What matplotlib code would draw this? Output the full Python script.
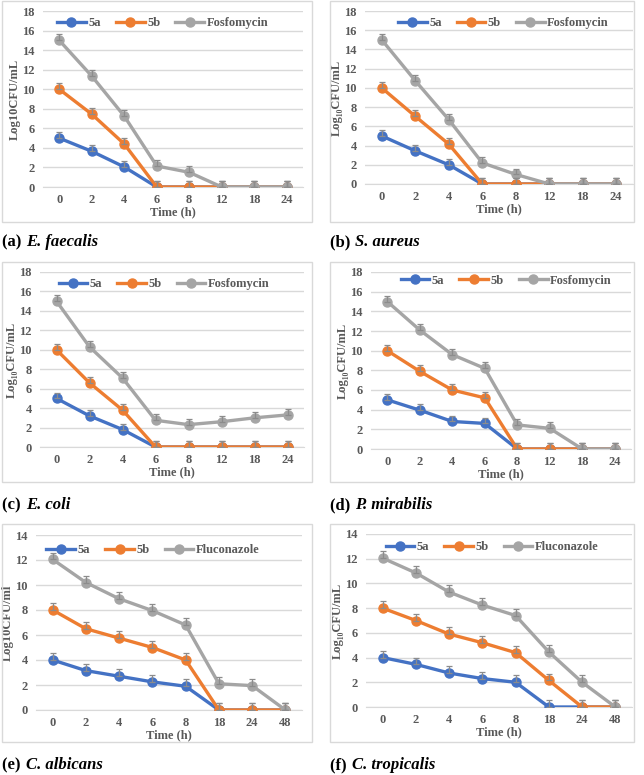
import matplotlib
matplotlib.use("Agg")
import matplotlib.pyplot as plt
import numpy as np
from matplotlib.patches import Rectangle

# ---- data ----
SERIES_BACT = ["5a", "5b", "Fosfomycin"]
SERIES_FUNG = ["5a", "5b", "Fluconazole"]
TIMES_BACT = ["0", "2", "4", "6", "8", "12", "18", "24"]
TIMES_FUNG = ["0", "2", "4", "6", "8", "18", "24", "48"]

faecalis_5a = [5.0, 3.65, 2.05, 0, 0, 0, 0, 0]
faecalis_5b = [10.0, 7.45, 4.4, 0, 0, 0, 0, 0]
faecalis_fos = [15.0, 11.35, 7.25, 2.15, 1.5, 0, 0, 0]

aureus_5a = [5.0, 3.45, 2.0, 0, 0, 0, 0, 0]
aureus_5b = [10.0, 7.05, 4.15, 0, 0, 0, 0, 0]
aureus_fos = [15.0, 10.75, 6.7, 2.2, 1.0, 0, 0, 0]

coli_5a = [5.0, 3.2, 1.8, 0, 0, 0, 0, 0]
coli_5b = [10.0, 6.6, 3.8, 0, 0, 0, 0, 0]
coli_fos = [15.0, 10.3, 7.1, 2.75, 2.3, 2.6, 3.0, 3.3]

mirabilis_5a = [5.0, 3.95, 2.8, 2.6, 0, 0, 0, 0]
mirabilis_5b = [10.0, 7.9, 6.0, 5.2, 0, 0, 0, 0]
mirabilis_fos = [15.0, 12.1, 9.6, 8.2, 2.45, 2.1, 0, 0]

albicans_5a = [4.0, 3.15, 2.7, 2.25, 1.9, 0, 0, 0]
albicans_5b = [8.0, 6.5, 5.75, 5.0, 4.0, 0, 0, 0]
albicans_flu = [12.05, 10.2, 8.9, 7.95, 6.8, 2.1, 1.95, 0]

tropicalis_5a = [4.0, 3.45, 2.75, 2.3, 2.0, 0, 0, 0]
tropicalis_5b = [8.0, 7.0, 5.9, 5.2, 4.4, 2.15, 0, 0]
tropicalis_flu = [12.05, 10.85, 9.3, 8.25, 7.4, 4.45, 2.0, 0]

ERR_BACT = 0.6
ERR_FUNG = 0.55

COLORS = ["#4472C4", "#ED7D31", "#A5A5A5"]
TXT = "#595959"
GRID = "#D9D9D9"

W, H = 644, 775
fig = plt.figure(figsize=(W / 100, H / 100), dpi=100)
plt.rcParams["font.family"] = ["Liberation Serif", "DejaVu Serif"]

# panels: (data, times, series, ymax, err, ylabel, axes px box, legend anchor, frame px, caption)
panels = [
    ([faecalis_5a, faecalis_5b, faecalis_fos], TIMES_BACT, SERIES_BACT, 18, ERR_BACT,
     "Log10CFU/mL", (43, 11, 303, 187), (0.46, 0.93), (2, 1, 312, 222), ("(a)", "E. faecalis"), 242),
    ([aureus_5a, aureus_5b, aureus_fos], TIMES_BACT, SERIES_BACT, 18, ERR_BACT,
     "Log\u2081\u2080CFU/mL", (365, 11, 633, 184), (0.516, 0.93), (330, 1, 634, 222), ("(b)", "S. aureus"), 242),
    ([coli_5a, coli_5b, coli_fos], TIMES_BACT, SERIES_BACT, 18, ERR_BACT,
     "Log\u2081\u2080CFU/mL", (40, 272, 304, 447), (0.47, 0.93), (2, 262, 312, 482), ("(c)", "E. coli"), 505),
    ([mirabilis_5a, mirabilis_5b, mirabilis_fos], TIMES_BACT, SERIES_BACT, 18, ERR_BACT,
     "Log\u2081\u2080CFU/mL", (371, 272, 631, 449), (0.52, 0.95), (330, 262, 634, 482), ("(d)", "P. mirabilis"), 505),
    ([albicans_5a, albicans_5b, albicans_flu], TIMES_FUNG, SERIES_FUNG, 14, ERR_FUNG,
     "Log10CFU/ml", (36, 535, 302, 710), (0.44, 0.915), (2, 524, 312, 742), ("(e)", "C. albicans"), 765),
    ([tropicalis_5a, tropicalis_5b, tropicalis_flu], TIMES_FUNG, SERIES_FUNG, 14, ERR_FUNG,
     "Log\u2081\u2080CFU/mL", (366, 534, 632, 707), (0.474, 0.925), (330, 524, 634, 742), ("(f)", "C. tropicalis"), 765),
]

renderer = fig.canvas.get_renderer()

for values, times, names, ymax, err, ylab, box, leg_xy, frame, cap, cap_y in panels:
    # light frame around each chart
    fx0, fy0, fx1, fy1 = frame
    fig.patches.append(Rectangle((fx0 / W, 1 - fy1 / H), (fx1 - fx0) / W, (fy1 - fy0) / H,
                                 transform=fig.transFigure, fill=False,
                                 edgecolor=GRID, linewidth=1.0, zorder=0))

    x0, y0, x1, y1 = box
    ax = fig.add_axes([x0 / W, 1 - y1 / H, (x1 - x0) / W, (y1 - y0) / H])
    x = np.arange(len(times))
    for name, vals, col in zip(names, values, COLORS):
        ax.plot(x, vals, color=col, lw=2.4, marker="o", ms=6.5, label=name, zorder=3)
    for vals in values:
        up = np.full(len(vals), err)
        ax.errorbar(x, vals, yerr=[np.zeros(len(vals)), up], fmt="none",
                    ecolor="#8C8C8C", elinewidth=0.9, capsize=2.5, capthick=0.9, zorder=4)

    ax.set_xlim(-0.5, len(times) - 0.5)
    ax.set_ylim(0, ymax)
    ax.set_yticks(np.arange(0, ymax + 1, 2))
    ax.set_xticks(x)
    ax.set_xticklabels(times)
    ax.grid(axis="y", color=GRID, lw=1.0)
    ax.set_axisbelow(True)
    for s in ["top", "right", "left"]:
        ax.spines[s].set_visible(False)
    ax.spines["bottom"].set_color(GRID)
    ax.tick_params(length=0, labelsize=9, labelcolor=TXT)
    ax.tick_params(axis="y", pad=6)
    ax.tick_params(axis="x", pad=5)
    for lbl in ax.get_xticklabels() + ax.get_yticklabels():
        lbl.set_fontweight("bold")
    ax.set_xlabel("Time (h)", fontsize=9, fontweight="bold", color=TXT, labelpad=0)
    ax.set_ylabel(ylab, fontsize=9, fontweight="bold", color=TXT, labelpad=1)

    ax.legend(loc="center", bbox_to_anchor=leg_xy, ncol=3, frameon=False,
              prop={"size": 9, "weight": "bold"}, labelcolor=TXT,
              handlelength=2.3, handletextpad=0.2, columnspacing=1.2,
              borderpad=0, borderaxespad=0)

    # caption: "(a) " bold + species bold italic
    t1 = fig.text(fx0 / W, 1 - cap_y / H, cap[0] + " ", fontsize=12, fontweight="bold",
                  va="center", ha="left")
    bb = t1.get_window_extent(renderer)
    fig.text(bb.x1 / W + 1 / W, 1 - cap_y / H, cap[1], fontsize=12, fontweight="bold",
             fontstyle="italic", va="center", ha="left")

fig.savefig("out.png", dpi=100)
